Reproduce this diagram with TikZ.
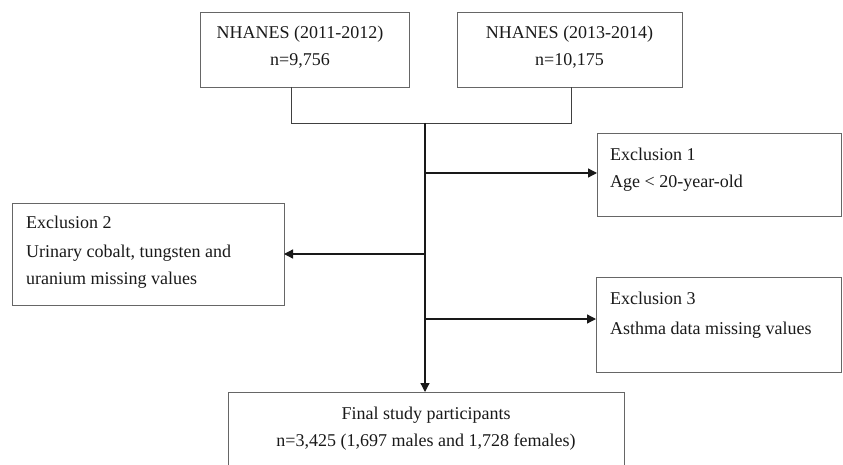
\documentclass[tikz,border=0pt]{standalone}
\usepackage{fontspec}
\setmainfont{Liberation Serif}
\usetikzlibrary{arrows.meta}
\begin{document}
\begin{tikzpicture}[x=1pt,y=-1pt,
  box/.style={draw=black!60,line width=0.9pt},
  lbl/.style={inner sep=0pt,font=\fontsize{18}{27}\selectfont,text=black!90},
  conn/.style={line width=1.3pt,black!90},
  arr/.style={conn,-{Triangle[length=9pt,width=9pt]}}]
\useasboundingbox (0,0) rectangle (843,465);
\clip (0,0) rectangle (843,465);
% boxes
\draw[box] (200,12) rectangle (409,87);
\draw[box] (457,12) rectangle (682,87);
\draw[box] (597,133) rectangle (841,216);
\draw[box] (12,203) rectangle (284,305);
\draw[box] (596,277) rectangle (841,372);
\draw[box] (228,392) rectangle (624,490);
% coordinates
\coordinate (n1b) at (291,87);
\coordinate (n2b) at (571,87);
\coordinate (j1) at (291,123);
\coordinate (j2) at (571,123);
\coordinate (top) at (425,123);
\coordinate (s1) at (425,173);
\coordinate (s2) at (425,254);
\coordinate (s3) at (425,319);
\coordinate (e1w) at (597,173);
\coordinate (e2e) at (284,254);
\coordinate (e3w) at (596,319);
\coordinate (fin) at (425,392);
% texts
\node[lbl,anchor=base] (t1a) at (300,39) {NHANES (2011-2012)};
\node[lbl,anchor=base] (t1b) at (300,66) {n=9,756};
\node[lbl,anchor=base] (t2a) at (569.5,39) {NHANES (2013-2014)};
\node[lbl,anchor=base] (t2b) at (569.5,66) {n=10,175};
\node[lbl,anchor=base west] (e1a) at (610,161) {Exclusion 1};
\node[lbl,anchor=base west] (e1b) at (610,188) {Age < 20-year-old};
\node[lbl,anchor=base west] (e2a) at (26,229) {Exclusion 2};
\node[lbl,anchor=base west] (e2b) at (26,257) {Urinary cobalt, tungsten and};
\node[lbl,anchor=base west] (e2c) at (26,284) {uranium missing values};
\node[lbl,anchor=base west] (e3a) at (610,304) {Exclusion 3};
\node[lbl,anchor=base west] (e3b) at (610,334) {Asthma data missing values};
\node[lbl,anchor=base] (fa) at (426,419) {Final study participants};
\node[lbl,anchor=base] (fb) at (426,446) {n=3,425 (1,697 males and 1,728 females)};
% connectors
\draw[conn,black!75,line width=0.9pt] (n1b) -- (j1) -- (j2) -- (n2b);
\draw[arr] (top) -- (fin);
\draw[arr] (s1) -- (e1w);
\draw[arr] (s2) -- (e2e);
\draw[arr] (s3) -- (e3w);
\end{tikzpicture}
\end{document}
